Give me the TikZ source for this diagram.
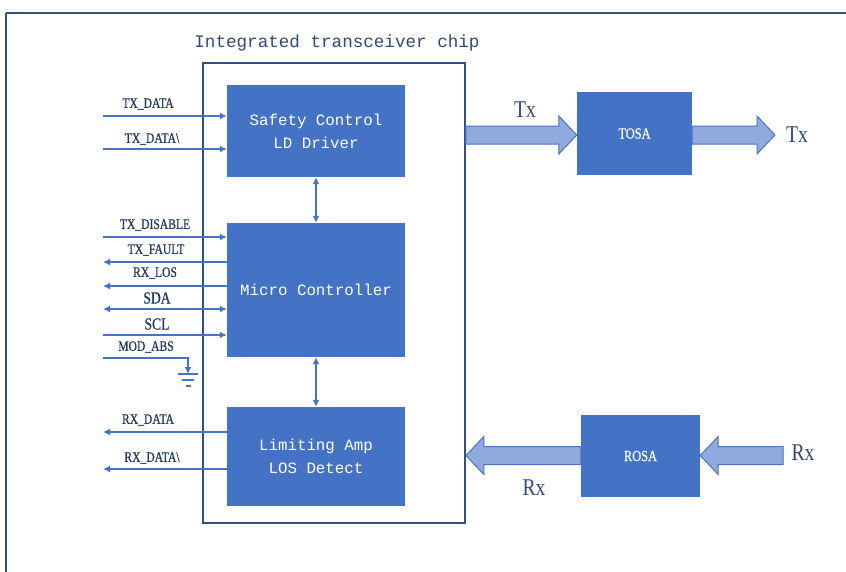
\documentclass[tikz,border=0pt]{standalone}
\usepackage{fontspec}
\setmainfont{Liberation Serif}
\newfontfamily\boxfont{Liberation Mono}
\newfontfamily\condfont[FakeStretch=0.82]{Liberation Serif}
\newfontfamily\lblfont[FakeStretch=0.8,FakeBold=0.6]{Liberation Serif}
\usetikzlibrary{arrows.meta,calc}
\definecolor{boxblue}{HTML}{4472C4}
\definecolor{sigblue}{HTML}{4472C4}
\definecolor{chipedge}{HTML}{2F5080}
\definecolor{titleblue}{HTML}{2F4A78}
\definecolor{lbltext}{HTML}{1F3864}
\definecolor{arrowfill}{HTML}{8FAADC}
\definecolor{arrowedge}{HTML}{4A74C0}
\newcommand\myBigArrow[2]{%
  \draw[bigarrow] let \p1=(#1), \p2=(#2), \n1={(\x2>\x1) ? 1 : -1} in
  (\x1,\y1+9pt) -- (\x2-\n1*18pt,\y1+9pt) -- (\x2-\n1*18pt,\y1+19pt) -- (\x2,\y1)
  -- (\x2-\n1*18pt,\y1-19pt) -- (\x2-\n1*18pt,\y1-9pt) -- (\x1,\y1-9pt) -- cycle;}
\begin{document}
\begin{tikzpicture}[x=1pt,y=-1pt,
  blockbox/.style={draw=none, fill=boxblue, text=white, align=center, inner sep=0pt,
    font=\boxfont\fontsize{15.8}{23}\selectfont},
  osabox/.style={draw=none, fill=boxblue, text=white, inner sep=0pt,
    font=\lblfont\fontsize{15.5}{18}\selectfont},
  chipbox/.style={draw=chipedge, line width=1.8pt, fill=none, inner sep=0pt},
  sig/.style={draw=sigblue, line width=1.8pt},
  tipr/.style={-{Latex[length=7pt,width=7pt]}},
  tipl/.style={{Latex[length=7pt,width=7pt]}-},
  tipb/.style={{Latex[length=7pt,width=7pt]}-{Latex[length=7pt,width=7pt]}},
  siglabel/.style={text=lbltext, inner sep=0pt, font=\lblfont\fontsize{14.5}{16}\selectfont},
  siglabelbig/.style={text=lbltext, inner sep=0pt, font=\lblfont\fontsize{17}{18}\selectfont},
  biglabel/.style={text=titleblue, inner sep=0pt, font=\condfont\fontsize{24}{26}\selectfont},
  bigarrow/.style={draw=arrowedge, fill=arrowfill, line width=1pt, line join=miter},
  frame/.style={draw=chipedge, line width=1.6pt}
]
\useasboundingbox (0,0) rectangle (846,571);
\fill[white] (0,0) rectangle (846,571);
% outer frame (continues past the right and bottom edges)
\draw[frame] (6,13) -- (870,13);
\draw[frame] (6,13) -- (6,590);

% chip
\node[chipbox, minimum width=262pt, minimum height=460pt] (chip) at (334,293) {};
\node[text=titleblue, inner sep=0pt, font=\boxfont\fontsize{17.6}{20}\selectfont] (title) at (337,43) {Integrated transceiver chip};

% blocks
\node[blockbox, minimum width=178pt, minimum height=92pt] (sc) at (316,131) {Safety Control\\LD Driver};
\node[blockbox, minimum width=178pt, minimum height=134pt] (mc) at (316,290) {Micro Controller};
\node[blockbox, minimum width=178pt, minimum height=99pt] (la) at (316,456.5) {Limiting Amp\\LOS Detect};
\node[osabox, minimum width=115pt, minimum height=83pt] (tosa) at (634.5,133.5) {TOSA};
\node[osabox, minimum width=119pt, minimum height=82pt] (rosa) at (640.5,456) {ROSA};

% internal arrows
\draw[sig,tipb] (sc.south) -- (mc.north);
\draw[sig,tipb] (mc.south) -- (la.north);

% signal end points
\coordinate (txd) at (103,116);
\coordinate (txdn) at (103,149);
\coordinate (txdis) at (103,237);
\coordinate (txf) at (103,262);
\coordinate (rxlos) at (103,286);
\coordinate (sda) at (103,309);
\coordinate (scl) at (103,335);
\coordinate (mod) at (103,358);
\coordinate (modc) at (188,358);
\coordinate (gnd) at (188,374);
\coordinate (rxd) at (103,432);
\coordinate (rxdn) at (103,469);

\draw[sig,tipr] (txd) -- (txd -| sc.west);
\draw[sig,tipr] (txdn) -- (txdn -| sc.west);
\draw[sig,tipr] (txdis) -- (txdis -| mc.west);
\draw[sig,tipl] (txf) -- (txf -| mc.west);
\draw[sig,tipl] (rxlos) -- (rxlos -| mc.west);
\draw[sig,tipb] (sda) -- (sda -| mc.west);
\draw[sig,tipr] (scl) -- (scl -| mc.west);
\draw[sig,tipr] (mod) -- (modc) -- (gnd);
\draw[sig] ($(gnd)+(-10,0)$) -- ($(gnd)+(10,0)$);
\draw[sig] ($(gnd)+(-6,6)$) -- ($(gnd)+(6,6)$);
\draw[sig] ($(gnd)+(-2.5,12)$) -- ($(gnd)+(2.5,12)$);
\draw[sig,tipl] (rxd) -- (rxd -| la.west);
\draw[sig,tipl] (rxdn) -- (rxdn -| la.west);

% signal labels
\node[siglabel] (ltxd) at (148,104) {TX\_DATA};
\node[siglabel] (ltxdn) at (152,139) {TX\_DATA\textbackslash};
\node[siglabel] (ltxdis) at (155,225) {TX\_DISABLE};
\node[siglabel] (ltxf) at (156,250) {TX\_FAULT};
\node[siglabel] (lrxlos) at (155,273) {RX\_LOS};
\node[siglabelbig] (lsda) at (157,298) {SDA};
\node[siglabelbig] (lscl) at (157,324) {SCL};
\node[siglabel] (lmod) at (146,347) {MOD\_ABS};
\node[siglabel] (lrxd) at (148,420) {RX\_DATA};
\node[siglabel] (lrxdn) at (152,458) {RX\_DATA\textbackslash};

% big arrows
\coordinate (txout) at (775,135);
\coordinate (rxin) at (783,455.5);
\myBigArrow{chip.east |- txout}{tosa.west |- txout}
\myBigArrow{tosa.east |- txout}{txout}
\myBigArrow{rxin}{rosa.east |- rxin}
\myBigArrow{rosa.west |- rxin}{chip.east |- rxin}

\node[biglabel] (ltx1) at (525,110) {Tx};
\node[biglabel] (ltx2) at (797,135) {Tx};
\node[biglabel] (lrx1) at (534,488) {Rx};
\node[biglabel] (lrx2) at (803,453) {Rx};
\end{tikzpicture}
\end{document}
